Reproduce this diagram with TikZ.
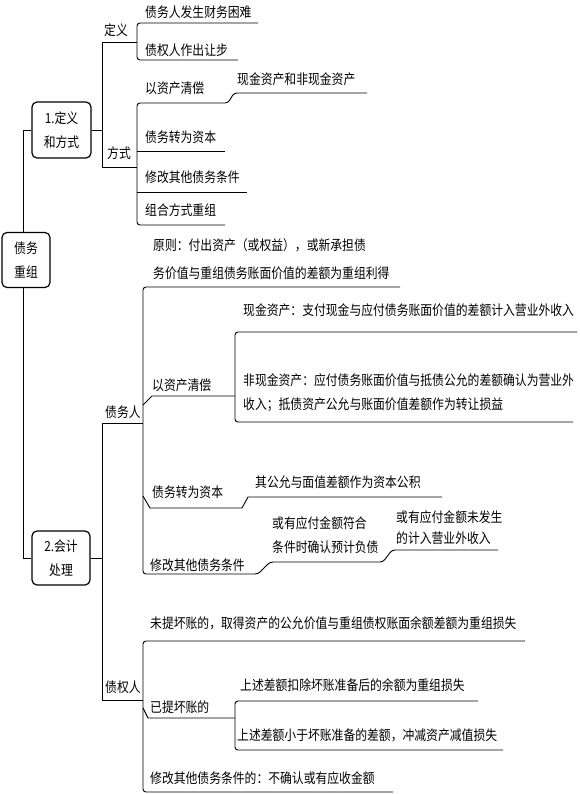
\documentclass[tikz,border=0pt]{standalone}
\usepackage{fontspec}
\newfontfamily\cjkfont[FakeStretch=0.85]{Noto Sans CJK SC}
\usetikzlibrary{calc}

\begin{document}
\begin{tikzpicture}[x=1pt,y=-1pt,
    font=\cjkfont\fontsize{13.9}{24}\selectfont,
    ln/.style={line width=0.9pt},
    brace/.style={line width=0.9pt,rounded corners=3pt},
    hub/.style={draw,line width=1.2pt,rounded corners=5pt,align=center,inner sep=0pt},
    lbl/.style={anchor=west,inner sep=0pt,align=left}]
  \useasboundingbox (0,0) rectangle (580,794);

  % main boxes
  \node[hub,minimum width=48,minimum height=55] (root) at (26,260) {债务\\重组};
  \node[hub,minimum width=59,minimum height=56] (defn) at (61.5,130) {1.定义\\和方式};
  \node[hub,minimum width=58,minimum height=54] (acct) at (61,558) {2.会计\\处理};

  % trunk
  \coordinate (top) at (23,130);
  \coordinate (bot) at (23,558);
  \draw[ln] (defn.west) -- (top) -- (root.north -| top);
  \draw[ln] (root.south -| top) -- (bot) -- (acct.west);

  % 1. definition and ways
  \coordinate (s1) at (102,42);
  \coordinate (s2) at (102,167);
  \draw[ln] (defn.east) -- (defn.east -| s1);
  \draw[ln] (s1) -- (s2);
  \draw[ln] (s1) -- (137,42);
  \draw[ln] (s2) -- (137,167);
  \node[lbl] (dy) at (104,30) {定义};
  \node[lbl] (fs) at (107,153) {方式};
  \node[lbl] (dy1) at (145,12) {债务人发生财务困难};
  \node[lbl] (dy2) at (145,50) {债权人作出让步};
  \draw[brace] (258,23) -- (137,23) -- (137,60) -- (238,60);
  \node[lbl] (fs1) at (145,88) {以资产清偿};
  \node[lbl] (fs11) at (237,79) {现金资产和非现金资产};
  \node[lbl] (fs2) at (145,137) {债务转为资本};
  \node[lbl] (fs3) at (145,177) {修改其他债务条件};
  \node[lbl] (fs4) at (145,210) {组合方式重组};
  \draw[brace] (367,93) -- (234,93) -- (228,103) -- (137,103) -- (137,225) -- (225,225);
  \draw[ln] (137,151) -- (225,151);
  \draw[ln] (137,192) -- (247,192);

  % 2. accounting
  \coordinate (b1) at (102,423);
  \coordinate (b2) at (102,700);
  \draw[ln] (acct.east) -- (acct.east -| b1);
  \draw[ln] (b1) -- (b2);
  \draw[ln] (b1) -- (143,423);
  \draw[ln] (b2) -- (143,700);
  \node[lbl] (zwr) at (105,412) {债务人};
  \node[lbl] (zqr) at (105,687) {债权人};

  % debtor
  \node[lbl] (yz) at (153,259) {原则：付出资产（或权益），或新承担债\\[4pt]务价值与重组债务账面价值的差额为重组利得};
  \draw[brace] (400,287) -- (143,287) -- (143,574) -- (258,574) -- (270,562)
               -- (383,562) -- (392,550) -- (498,550);
  \node[lbl] (d1) at (152,385) {以资产清偿};
  \node[lbl] (d11) at (243,310) {现金资产：支付现金与应付债务账面价值的差额计入营业外收入};
  \node[lbl] (d12) at (243,393) {非现金资产：应付债务账面价值与抵债公允的差额确认为营业外\\收入；抵债资产公允与账面价值差额作为转让损益};
  \draw[ln] (143,405) -- (152,396) -- (235,396);
  \draw[brace] (577,332) -- (235,332) -- (235,422) -- (573,422);
  \node[lbl] (d2) at (152,492) {债务转为资本};
  \node[lbl] (d21) at (255,482) {其公允与面值差额作为资本公积};
  \draw[ln] (143,496) -- (150,508) -- (242,508) -- (248,497) -- (442,497);
  \node[lbl] (d3) at (150,565) {修改其他债务条件};
  \node[lbl] (d31) at (272,535) {或有应付金额符合\\条件时确认预计负债};
  \node[lbl] (d32) at (396,528) {或有应付金额未发生\\[-3pt]的计入营业外收入};

  % creditor
  \node[lbl] (c1) at (150,623) {未提坏账的，取得资产的公允价值与重组债权账面余额差额为重组损失};
  \draw[brace] (525,641) -- (143,641) -- (143,792) -- (393,792);
  \node[lbl] (c2) at (150,707) {已提坏账的};
  \node[lbl] (c21) at (240,685) {上述差额扣除坏账准备后的余额为重组损失};
  \node[lbl] (c22) at (237,735) {上述差额小于坏账准备的差额，冲减资产减值损失};
  \draw[ln] (143,708) -- (148,718) -- (235,718);
  \draw[brace] (478,701) -- (235,701) -- (235,750) -- (503,750);
  \node[lbl] (c3) at (150,778) {修改其他债务条件的：不确认或有应收金额};
\end{tikzpicture}
\end{document}
